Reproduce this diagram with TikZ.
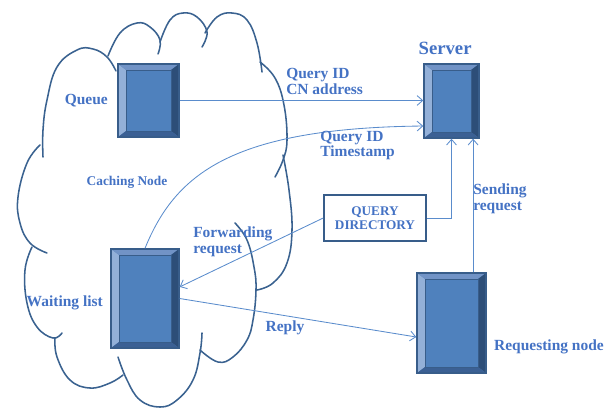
\documentclass[tikz,border=0pt]{standalone}
\usepackage{fontspec}
\setmainfont{Liberation Serif}
\usepackage{xcolor}
\usetikzlibrary{positioning}
\usetikzlibrary{arrows.meta}

\definecolor{boxface}{HTML}{4F81BD}
\definecolor{boxedge}{HTML}{385D8A}
\definecolor{bevlight}{HTML}{93B0D8}
\definecolor{bevtop}{HTML}{7193C6}
\definecolor{bevdark}{HTML}{2D4E78}
\definecolor{bevbottom}{HTML}{3B6094}
\definecolor{cloudcol}{HTML}{3A6290}
\definecolor{linkcol}{HTML}{5A8CCC}
\definecolor{labelcol}{HTML}{4472C4}

\begin{document}
\begin{tikzpicture}[
  x=0.025cm, y=-0.025cm,
  font=\bfseries\fontsize{11}{11}\selectfont,
  bevelbox/.style={draw=boxedge, line width=1pt, fill=boxface, inner sep=0pt,
    path picture={
      \path (path picture bounding box.south west) coordinate (bsw)
            (path picture bounding box.north west) coordinate (bnw)
            (path picture bounding box.north east) coordinate (bne)
            (path picture bounding box.south east) coordinate (bse);
      \path ([shift={(0.2cm,0.15cm)}]bsw) coordinate (isw)
            ([shift={(0.2cm,-0.15cm)}]bnw) coordinate (inw)
            ([shift={(-0.2cm,-0.15cm)}]bne) coordinate (ine)
            ([shift={(-0.2cm,0.15cm)}]bse) coordinate (ise);
      \fill[bevlight] (bsw) -- (bnw) -- (inw) -- (isw) -- cycle;
      \fill[bevtop] (bnw) -- (bne) -- (ine) -- (inw) -- cycle;
      \fill[bevdark] (bne) -- (bse) -- (ise) -- (ine) -- cycle;
      \fill[bevbottom] (bse) -- (bsw) -- (isw) -- (ise) -- cycle;
      \draw[boxedge, line width=0.5pt] (isw) rectangle (ine);
    }},
  dirbox/.style={draw=boxedge, line width=1.1pt, fill=white, align=center,
    minimum width=2.55cm, minimum height=1.15cm, text=labelcol,
    font=\bfseries\fontsize{9.4}{10}\selectfont},
  label/.style={text=labelcol, inner sep=0pt, align=left},
  cloudline/.style={draw=cloudcol, line width=1.1pt, line cap=round},
  link/.style={draw=linkcol, line width=0.6pt, -{Straight Barb[length=4pt, width=7pt]}}
]
\useasboundingbox (0,0) rectangle (609,409);

% Caching node cloud, one stroke per lobe
\draw[cloudline] plot[smooth, tension=0.7] coordinates {(43,157) (43,130) (47,100) (57,67) (77,50) (93,49) (107,57) (116,71)};
\draw[cloudline] plot[smooth, tension=0.7] coordinates {(108,56) (120,33) (137,23) (150,27) (160,40) (158,54)};
\draw[cloudline] plot[smooth, tension=0.7] coordinates {(160,42) (170,20) (183,13) (197,17) (207,32) (202,47)};
\draw[cloudline] plot[smooth, tension=0.7] coordinates {(205,33) (217,17) (232,13) (247,20) (257,43) (262,72)};
\draw[cloudline] plot[smooth, tension=0.7] coordinates {(260,62) (275,78) (284,105) (287,140) (283,160) (275,177)};
\draw[cloudline] plot[smooth, tension=0.7] coordinates {(283,155) (289,190) (292,230) (287,263) (273,283) (257,290)};
\draw[cloudline] plot[smooth, tension=0.7] coordinates {(235,223) (247,240) (254,267) (256,290) (253,320) (247,340) (233,357) (218,362) (200,350)};
\draw[cloudline] plot[smooth, tension=0.7] coordinates {(202,333) (200,353) (193,380) (177,400) (160,407) (140,400) (127,380) (118,357)};
\draw[cloudline] plot[smooth, tension=0.7] coordinates {(123,375) (110,383) (90,388) (70,380) (57,357) (55,338)};
\draw[cloudline] plot[smooth, tension=0.7] coordinates {(32,247) (25,270) (27,303) (37,327) (53,338) (62,333)};
\draw[cloudline] plot[smooth, tension=0.7] coordinates {(40,145) (27,163) (18,197) (20,223) (30,243) (47,253)};

% Boxes
\node[bevelbox, minimum width=1.525cm, minimum height=1.825cm] (queue) at (148.5,100.5) {};
\node[bevelbox, minimum width=1.7cm, minimum height=2.475cm] (wait) at (145,298.5) {};
\node[bevelbox, minimum width=1.375cm, minimum height=1.85cm] (server) at (451.5,101) {};
\node[bevelbox, minimum width=1.725cm, minimum height=2.5cm] (req) at (451.5,323) {};
\node[dirbox] (qdir) at (375,218) {QUERY\\DIRECTORY};

% Box labels
\node[label, left=0.23cm of queue] (queuelbl) {Queue};
\node[label, left=0.18cm of wait, yshift=-0.11cm] (waitlbl) {Waiting list};
\node[label, above=0.2cm of server, xshift=-0.16cm, font=\bfseries\fontsize{13.3}{14}\selectfont] (serverlbl) {Server};
\node[label, right=0.18cm of req, yshift=-0.6cm] (reqlbl) {Requesting node};
\node[label, font=\bfseries\fontsize{9.5}{10}\selectfont] (cachelbl) at (127,182) {Caching Node};

% Links
\draw[link] (queue.east) -- (queue.east -| server.west);
\draw[link] (wait.north) .. controls (175,175) and (230,128) .. ([yshift=-0.625cm]server.west);
\draw[link] (qdir.east) -| (server.south);
\draw[link] ([xshift=0.54cm]req.north) -- ([xshift=0.54cm]server.south);
\draw[link] (qdir.west) -- ([yshift=0.29cm]wait.east);
\draw[link] (wait.east) -- ([yshift=-0.35cm]req.west);

% Link labels
\node[label, anchor=west] (idcn) at (286,81.5) {Query ID\\CN address};
\node[label, anchor=west] (idts) at (320,145.5) {Query ID\\Timestamp};
\node[label, anchor=west] (sendlbl) at (473,199) {Sending\\request};
\node[label, anchor=west] (fwdlbl) at (193,242) {Forwarding\\request};
\node[label] (replylbl) at (285,328) {Reply};

\end{tikzpicture}
\end{document}
